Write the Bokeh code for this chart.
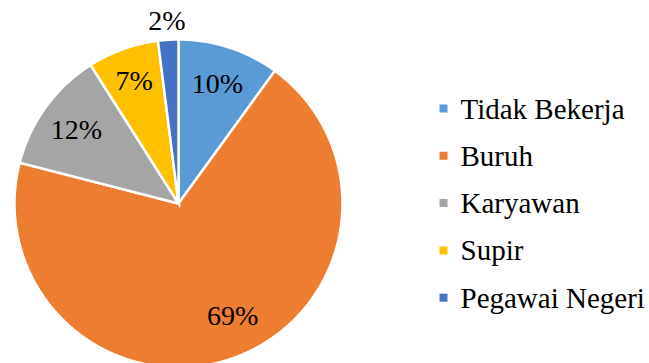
import math
from bokeh.plotting import figure
from bokeh.core.properties import value
from bokeh.embed import file_html
from bokeh.resources import INLINE

categories = ["Tidak Bekerja", "Buruh", "Karyawan", "Supir", "Pegawai Negeri"]
percents = [10, 69, 12, 7, 2]
colors = ["#5B9BD5", "#ED7D31", "#A5A5A5", "#FFC000", "#4472C4"]

W, H = 649, 363
CX, CY, R = 178, H - 203, 164
FONT = "Liberation Serif"

# label placement style (fraction of radius, angle tweak in degrees)
label_rfrac = [0.77, 0.76, 0.77, 0.80, 1.12]
label_dang = [0, 6, 0, 0, 0]

total = sum(percents)
xs, ys_p, lx, ly, labels = [], [], [], [], []
cum = 0.0
for i, v in enumerate(percents):
    a0 = math.pi / 2 - 2 * math.pi * cum / total
    cum += v
    a1 = math.pi / 2 - 2 * math.pi * cum / total
    n = max(4, int(abs(a0 - a1) / math.radians(0.25)))
    px = [CX] + [CX + R * math.cos(a0 + (a1 - a0) * k / n) for k in range(n + 1)]
    py = [CY] + [CY + R * math.sin(a0 + (a1 - a0) * k / n) for k in range(n + 1)]
    xs.append(px)
    ys_p.append(py)
    mid = (a0 + a1) / 2 + math.radians(label_dang[i])
    lx.append(CX + label_rfrac[i] * R * math.cos(mid))
    ly.append(CY + label_rfrac[i] * R * math.sin(mid))
    labels.append(f"{v}%")

p = figure(width=W, height=H, x_range=(0, W), y_range=(0, H),
           output_backend="svg", toolbar_location=None, min_border=0)
p.axis.visible = False
p.grid.visible = False
p.outline_line_alpha = 0

p.patches(xs=xs, ys=ys_p, fill_color=colors, line_color="white", line_width=2.5,
          line_join="miter")

for i in range(len(labels)):
    p.text(x=[lx[i]], y=[ly[i]], text=[labels[i]], text_font=value(FONT),
           text_font_size="28px", text_align="center", text_baseline="middle")

# legend
leg_x, leg_y0, leg_dy = 443, H - 108, 47.3
ly_leg = [leg_y0 - i * leg_dy for i in range(len(categories))]
p.scatter(x=[leg_x] * len(categories), y=ly_leg, marker="square", size=8,
          fill_color=colors, line_color=None)
for i in range(len(categories)):
    p.text(x=[leg_x + 17], y=[ly_leg[i]], text=[categories[i]],
           text_font=value(FONT), text_font_size="29px", text_baseline="middle")

open("out.html", "w").write(file_html(p, INLINE))
